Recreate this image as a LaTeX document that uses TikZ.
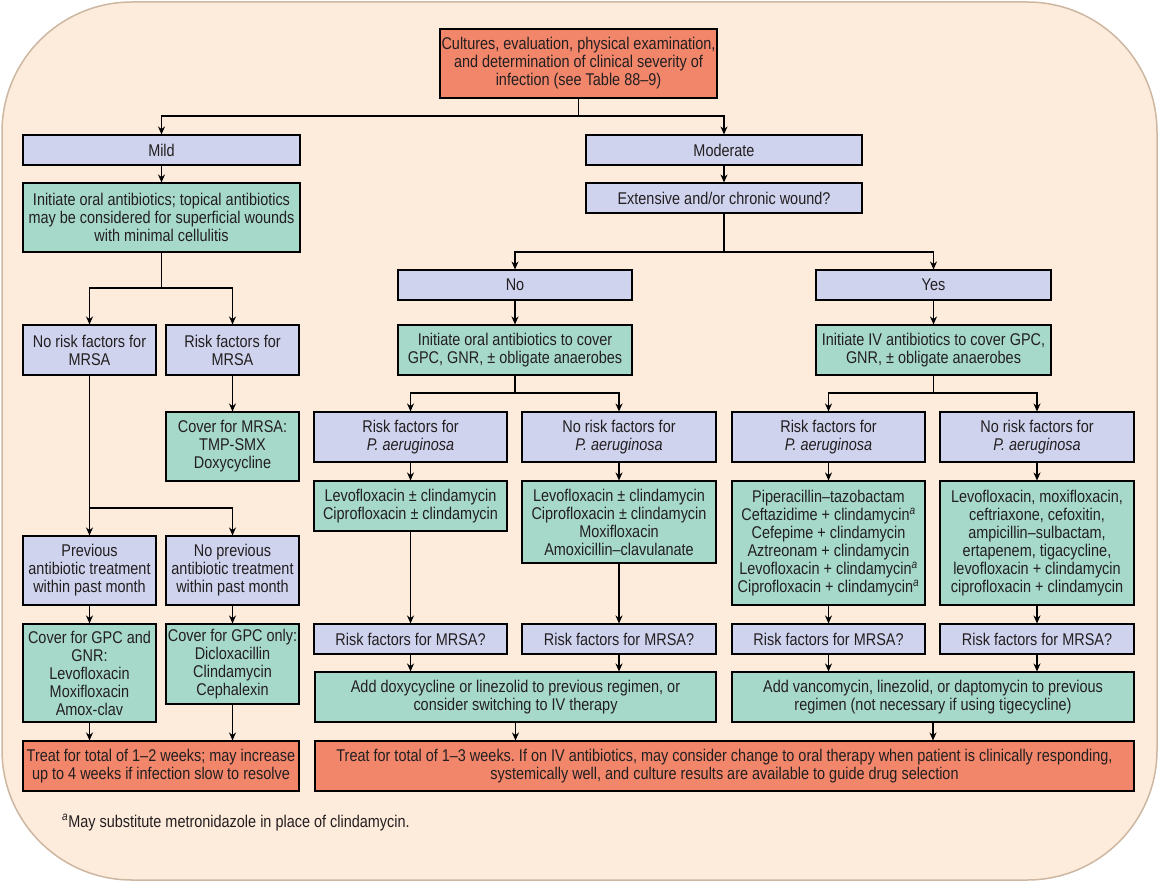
\documentclass[tikz,border=0pt]{standalone}
\usepackage{fontspec}
\setmainfont{Liberation Sans}[FakeStretch=0.85]
\usetikzlibrary{arrows.meta}
\definecolor{bgpeach}{HTML}{FDEBDC}
\definecolor{bgline}{HTML}{CDB7A1}
\definecolor{boxblue}{HTML}{CFD3EE}
\definecolor{boxgreen}{HTML}{A6D9CA}
\definecolor{boxsalmon}{HTML}{F1866A}
\definecolor{txt}{HTML}{231F20}
\frenchspacing
\newcommand\supa{\textsuperscript{\textit{a}}}
\newcommand\mybox[7]{%
  \pgfmathsetmacro\bxw{#4-#2}\pgfmathsetmacro\bxh{#5-#3}%
  \pgfmathsetmacro\bxcx{(#2+#4)/2}\pgfmathsetmacro\bxcy{(#3+#5)/2}%
  \node[#6,minimum width=\bxw pt,minimum height=\bxh pt] (#1) at (\bxcx,\bxcy) {#7};}
\tikzset{
  base/.style={draw=black,line width=1.1pt,inner xsep=0pt,inner ysep=0pt,align=center,
    text=txt,font=\fontsize{17}{18}\selectfont},
  bluebox/.style={base,fill=boxblue},
  greenbox/.style={base,fill=boxgreen},
  salmonbox/.style={base,fill=boxsalmon},
  arr/.style={draw=black,line width=1.1pt,-{Stealth[length=8pt,width=7pt]}},
  ln/.style={draw=black,line width=1.1pt}
}
\begin{document}
\begin{tikzpicture}[x=1pt,y=-1pt]
\useasboundingbox (0,0) rectangle (1159,883);
\draw[fill=bgpeach,draw=bgline,line width=1.5pt,rounded corners=130pt] (2,2) rectangle (1157,880);

% left (mild) column
\mybox{top}{440}{29}{717}{98}{salmonbox}{Cultures, evaluation, physical examination,\\ and determination of clinical severity of\\ infection (see Table 88–9)}
\mybox{mild}{23}{135}{300}{165}{bluebox}{Mild}
\mybox{oralmild}{23}{183}{300}{252}{greenbox}{Initiate oral antibiotics; topical antibiotics\\ may be considered for superficial wounds\\ with minimal cellulitis}
\mybox{norisk}{23}{325}{156}{375}{bluebox}{No risk factors for\\ MRSA}
\mybox{risk}{166}{325}{299}{375}{bluebox}{Risk factors for\\ MRSA}
\mybox{covermrsa}{166}{412}{299}{481}{greenbox}{Cover for MRSA:\\ TMP-SMX\\ Doxycycline}
\mybox{prev}{23}{536}{156}{605}{bluebox}{Previous\\ antibiotic treatment\\ within past month}
\mybox{noprev}{166}{536}{299}{605}{bluebox}{No previous\\ antibiotic treatment\\ within past month}
\mybox{gpcgnr}{23}{624}{156}{722}{greenbox}{Cover for GPC and\\ GNR:\\ Levofloxacin\\ Moxifloxacin\\ Amox-clav}
\mybox{gpc}{166}{624}{299}{704}{greenbox}{Cover for GPC only:\\ Dicloxacillin\\ Clindamycin\\ Cephalexin}
\mybox{treata}{23}{741}{299}{791}{salmonbox}{Treat for total of 1–2 weeks; may increase\\ up to 4 weeks if infection slow to resolve}

% moderate
\mybox{moderate}{586}{135}{862}{165}{bluebox}{Moderate}
\mybox{extensive}{586}{183}{862}{213}{bluebox}{Extensive and/or chronic wound?}
\mybox{no}{398}{270}{632}{300}{bluebox}{No}
\mybox{yes}{816}{270}{1051}{300}{bluebox}{Yes}
\mybox{initoral}{398}{325}{632}{375}{greenbox}{Initiate oral antibiotics to cover\\ GPC, GNR, ± obligate anaerobes}
\mybox{initiv}{816}{325}{1051}{375}{greenbox}{Initiate IV antibiotics to cover GPC,\\ GNR, ± obligate anaerobes}
\mybox{rpa1}{314}{412}{507}{462}{bluebox}{Risk factors for\\ \textit{P. aeruginosa}}
\mybox{nrpa1}{522}{412}{716}{462}{bluebox}{No risk factors for\\ \textit{P. aeruginosa}}
\mybox{rpa2}{732}{412}{925}{462}{bluebox}{Risk factors for\\ \textit{P. aeruginosa}}
\mybox{nrpa2}{940}{412}{1134}{462}{bluebox}{No risk factors for\\ \textit{P. aeruginosa}}
\mybox{d1}{314}{481}{507}{531}{greenbox}{Levofloxacin ± clindamycin\\ Ciprofloxacin ± clindamycin}
\mybox{d2}{522}{481}{716}{563}{greenbox}{Levofloxacin ± clindamycin\\ Ciprofloxacin ± clindamycin\\ Moxifloxacin\\ Amoxicillin–clavulanate}
\mybox{d3}{732}{481}{925}{605}{greenbox}{Piperacillin–tazobactam\\ Ceftazidime + clindamycin\supa\\ Cefepime + clindamycin\\ Aztreonam + clindamycin\\ Levofloxacin + clindamycin\supa\\ Ciprofloxacin + clindamycin\supa}
\mybox{d4}{940}{481}{1134}{605}{greenbox}{Levofloxacin, moxifloxacin,\\ ceftriaxone, cefoxitin,\\ ampicillin–sulbactam,\\ ertapenem, tigacycline,\\ levofloxacin + clindamycin\\ ciprofloxacin + clindamycin}
\mybox{q1}{314}{624}{507}{654}{bluebox}{Risk factors for MRSA?}
\mybox{q2}{522}{624}{716}{654}{bluebox}{Risk factors for MRSA?}
\mybox{q3}{732}{624}{925}{654}{bluebox}{Risk factors for MRSA?}
\mybox{q4}{940}{624}{1134}{654}{bluebox}{Risk factors for MRSA?}
\mybox{adddoxy}{315}{672}{716}{722}{greenbox}{Add doxycycline or linezolid to previous regimen, or\\ consider switching to IV therapy}
\mybox{addvanco}{732}{672}{1134}{722}{greenbox}{Add vancomycin, linezolid, or daptomycin to previous\\ regimen (not necessary if using tigecycline)}
\mybox{treatb}{315}{741}{1134}{791}{salmonbox}{Treat for total of 1–3 weeks. If on IV antibiotics, may consider change to oral therapy when patient is clinically responding,\\ systemically well, and culture results are available to guide drug selection}

\node[anchor=base west,inner sep=0pt,text=txt,font=\fontsize{17}{18}\selectfont] (foot) at (62,827) {\supa May substitute metronidazole in place of clindamycin.};

% junctions
\coordinate (j0) at (578.5,116);
\coordinate (j1) at (161.5,288);
\coordinate (j2) at (89.5,508);
\coordinate (j3) at (724,252);
\coordinate (j4) at (515,393);
\coordinate (j5) at (933.5,393);

% connectors
\draw[ln] (top.south) -- (j0);
\draw[arr] (j0) -| (mild.north);
\draw[arr] (j0) -| (moderate.north);
\draw[arr] (mild) -- (oralmild);
\draw[ln] (oralmild.south) -- (j1);
\draw[arr] (j1) -| (norisk.north);
\draw[arr] (j1) -| (risk.north);
\draw[arr] (risk) -- (covermrsa);
\draw[ln] (norisk.south) -- (j2);
\draw[arr] (j2) -- (prev.north);
\draw[arr] (j2) -| (noprev.north);
\draw[arr] (prev) -- (gpcgnr);
\draw[arr] (noprev) -- (gpc);
\draw[arr] (gpcgnr.south) -- (gpcgnr.south |- treata.north);
\draw[arr] (gpc.south) -- (gpc.south |- treata.north);

\draw[arr] (moderate) -- (extensive);
\draw[ln] (extensive.south) -- (j3);
\draw[arr] (j3) -| (no.north);
\draw[arr] (j3) -| (yes.north);
\draw[arr] (no) -- (initoral);
\draw[arr] (yes) -- (initiv);
\draw[ln] (initoral.south) -- (j4);
\draw[arr] (j4) -| (rpa1.north);
\draw[arr] (j4) -| (nrpa1.north);
\draw[ln] (initiv.south) -- (j5);
\draw[arr] (j5) -| (rpa2.north);
\draw[arr] (j5) -| (nrpa2.north);
\draw[arr] (rpa1) -- (d1);
\draw[arr] (nrpa1) -- (d2);
\draw[arr] (rpa2) -- (d3);
\draw[arr] (nrpa2) -- (d4);
\draw[arr] (d1) -- (q1);
\draw[arr] (d2) -- (q2);
\draw[arr] (d3) -- (q3);
\draw[arr] (d4) -- (q4);
\draw[arr] (q1.south) -- (q1.south |- adddoxy.north);
\draw[arr] (q2.south) -- (q2.south |- adddoxy.north);
\draw[arr] (q3.south) -- (q3.south |- addvanco.north);
\draw[arr] (q4.south) -- (q4.south |- addvanco.north);
\draw[arr] (adddoxy.south) -- (adddoxy.south |- treatb.north);
\draw[arr] (addvanco.south) -- (addvanco.south |- treatb.north);
\end{tikzpicture}
\end{document}
